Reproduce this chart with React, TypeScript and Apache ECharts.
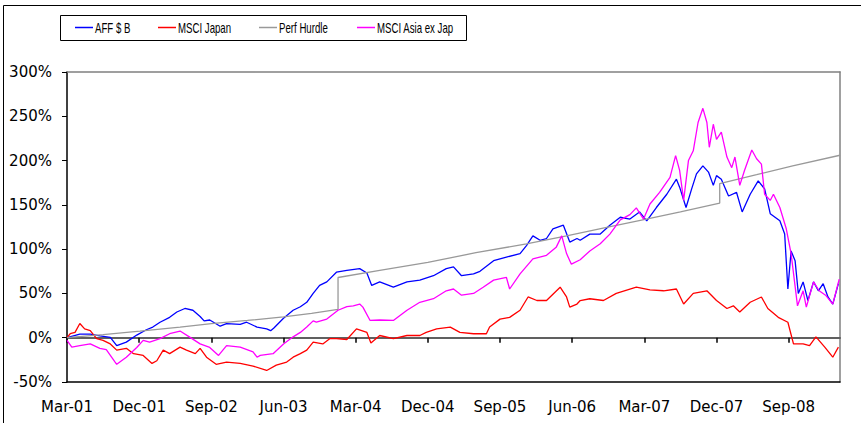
import React, { useEffect, useRef } from 'react';
import * as echarts from 'echarts';

// x values are months elapsed since the start of Mar-01
const xTickMonths = [0, 9, 18, 27, 36, 45, 54, 63, 72, 81, 90];
const xTickLabels = ['Mar-01', 'Dec-01', 'Sep-02', 'Jun-03', 'Mar-04', 'Dec-04', 'Sep-05', 'Jun-06', 'Mar-07', 'Dec-07', 'Sep-08'];
const xMax = 96.4;

const seriesNames = ['AFF $ B', 'MSCI Japan', 'Perf Hurdle', 'MSCI Asia ex Jap'];
const seriesColors = ['#0000FF', '#FF0000', '#999999', '#FF00FF'];

const affData: [number, number][] = [
  [0, 0], [1.6, 4], [2.9, 4], [4.1, 2], [5.4, 0.5], [6.2, -9], [7.4, -5], [8.7, 3], [9.9, 9], [10.7, 12],
  [11.6, 17.5], [12.8, 23], [13.7, 29], [14.7, 33], [15.7, 31], [16.6, 24], [17.1, 19], [17.8, 20], [19.1, 13], [19.9, 16],
  [21.6, 15], [22.4, 17.5], [23.7, 12], [24.9, 10], [25.4, 8], [25.8, 11], [27, 22], [28.2, 31], [29.1, 35], [29.9, 40],
  [30.7, 50], [31.5, 59], [32.4, 63], [33.6, 74], [34.9, 76], [36.5, 78], [37.4, 73], [38, 59], [39, 63], [40.7, 57],
  [42.4, 63], [44, 65], [45.7, 70], [47.3, 78], [48.2, 80], [49.2, 70], [50.7, 72], [51.5, 75], [53.2, 87], [54.8, 91],
  [56.5, 95], [57.3, 104], [58.1, 115], [59, 110], [59.8, 112], [60.6, 123], [61.9, 127], [62.7, 108], [63.6, 112], [64, 110],
  [65.2, 117], [66.5, 117], [67.7, 127], [69, 136], [70.2, 134], [71.4, 142], [72.3, 132], [73.5, 147], [74.8, 162], [76, 179],
  [76.4, 170], [77.2, 147], [77.9, 168], [78.5, 185], [79.3, 194], [80, 187], [80.6, 172], [81, 183], [81.6, 179], [82.5, 160],
  [83.5, 164], [84.2, 142], [85.2, 162], [86.2, 177], [87, 168], [87.7, 140], [88.9, 132], [89.5, 117], [89.9, 55], [90.3, 98],
  [90.8, 87], [91.2, 50], [91.8, 63], [92.4, 42], [93.1, 63], [93.7, 53], [94.3, 61], [94.9, 46], [95.5, 38], [96.2, 61],
];

const japanData: [number, number][] = [
  [0, 0], [0.4, 4.5], [1, 6], [1.6, 16], [2.2, 10], [2.9, 8], [3.7, -1], [4.5, -3], [5.4, -7], [6.2, -14],
  [7.4, -12], [8.3, -18], [9.5, -20], [10.6, -29], [11.2, -26], [12, -14], [12.8, -18], [14.1, -10.6], [14.9, -14], [16, -18],
  [16.6, -12], [17.4, -22], [18.6, -30], [19.9, -27.5], [21.6, -29], [23.2, -32], [24.9, -37], [26.1, -31], [27.4, -27.5], [28.2, -22],
  [29.1, -18], [29.9, -14], [30.7, -5], [31.9, -7], [32.8, -1], [33.6, -1], [34.9, -2], [36.1, 10], [37.4, 6], [37.9, -6],
  [39, 2.5], [40.7, -1], [42.4, 2.5], [44, 2.5], [44.8, 6], [46.1, 10], [47.8, 12], [49, 6], [50.7, 4.5], [52.3, 4.5],
  [52.7, 12], [54, 21], [55.2, 23], [56.5, 31], [57.5, 46], [58.6, 42], [59.8, 42], [61.5, 57], [62.3, 46], [62.7, 34.5],
  [63.6, 38], [64, 42], [65.2, 44], [66.9, 42], [68.5, 50], [71, 57], [72.7, 54], [74.4, 53], [76, 55], [76.9, 38],
  [78.1, 50], [79.8, 53], [81, 42], [82.3, 33], [83.1, 36], [83.9, 29], [85.2, 40], [86.6, 46], [87.4, 33], [88.7, 23],
  [89.9, 17.5], [90.6, -7], [91.8, -7], [92.6, -9], [93.4, 1], [94.5, -10.6], [95.5, -22], [96.2, -10.6],
];

const hurdleData: [number, number][] = [
  [0, 0], [4.5, 3.5], [9.1, 7.5], [14.1, 12], [18, 16], [22.5, 19.5], [27, 23.5], [30.5, 27.5], [33.8, 32], [33.8, 68],
  [39, 76], [45, 85], [51, 96], [57.3, 106], [62.3, 115], [67, 124], [71.8, 133], [76.5, 142], [81.4, 152], [81.4, 174],
  [86, 184], [90.5, 194], [96.4, 206],
];

const asiaData: [number, number][] = [
  [0, -3], [0.6, -10.6], [1.6, -9], [2.9, -7], [4.1, -12], [4.9, -13.5], [6, -27.5], [6.2, -30], [7.4, -22], [8.7, -11],
  [9.5, -3], [10.3, -5], [11.6, -1], [12.8, 4.5], [14.1, 7.5], [15.3, 0.7], [16.6, -7], [17.8, -11], [18.9, -20], [19.9, -9],
  [21.6, -10.6], [23.2, -16], [23.7, -22], [24.1, -20], [25.7, -18], [27, -7], [28.2, 1], [29.1, 6], [29.9, 12], [30.7, 19],
  [31.1, 17.5], [32.4, 21], [33.8, 31], [34.9, 35], [35.7, 36], [36.5, 38], [36.9, 34.5], [37.8, 19.5], [39, 20], [40.7, 19.5],
  [42.4, 31], [44, 40], [45.7, 44], [47.3, 53], [48.2, 55], [49.2, 48], [50.7, 50], [51.9, 57], [53.2, 65], [54.8, 68],
  [55.2, 55], [56.5, 72], [58.1, 89], [59.8, 93], [61, 102], [61.7, 115], [62.3, 95], [62.9, 83], [64, 88], [65.2, 98],
  [66.5, 106], [67.7, 117], [69, 133], [70.2, 139], [71, 146.6], [71.9, 134], [72.7, 151], [73.9, 164], [75.2, 181], [75.9, 205.6],
  [76.4, 189], [76.9, 155], [77.5, 200], [78.1, 211], [78.7, 243], [79.3, 259], [79.8, 243], [80.1, 215], [80.6, 241], [81, 224],
  [81.6, 232], [82.3, 204], [82.9, 192], [83.3, 204], [83.9, 172], [84.5, 189], [85.4, 212], [86, 202], [86.6, 196], [87, 162],
  [87.7, 155], [88.1, 162], [88.9, 147], [89.7, 123], [90.3, 95], [91.1, 36], [91.8, 53], [92.2, 34.5], [93.1, 63], [93.8, 53],
  [94.6, 48], [95.5, 38], [96.3, 66],
];

const allData = [affData, japanData, hurdleData, asiaData];

// legend layout (pixels)
const legendBox = { x: 60.5, y: 15.5, width: 406, height: 25 };
const legendLineStarts = [75, 158, 259, 357];
const legendLineLen = 18;
const legendMidY = 27.5;

export default function App() {
  const ref = useRef<HTMLDivElement>(null);
  useEffect(() => {
    if (!ref.current) return;
    const chart = echarts.init(ref.current, null, { renderer: 'svg' });
    const axisFont = { fontFamily: 'DejaVu Sans', fontSize: 15, color: '#000' };

    const legendGraphics: any[] = [
      {
        type: 'rect',
        silent: true,
        shape: { ...legendBox },
        style: { fill: '#fff', stroke: '#000', lineWidth: 1 },
        z: 10,
      },
    ];
    seriesNames.forEach((name, i) => {
      const x0 = legendLineStarts[i];
      legendGraphics.push({
        type: 'line',
        silent: true,
        shape: { x1: x0, y1: legendMidY, x2: x0 + legendLineLen, y2: legendMidY },
        style: { stroke: seriesColors[i], lineWidth: 1.5 },
        z: 11,
      });
      legendGraphics.push({
        type: 'text',
        silent: true,
        x: x0 + legendLineLen + 2,
        y: legendMidY + 0.5,
        scaleX: 0.69,
        style: {
          text: name,
          x: 0,
          y: 0,
          fill: '#000',
          fontFamily: 'Liberation Sans',
          fontSize: 14,
          align: 'left',
          verticalAlign: 'middle',
        },
        z: 11,
      });
    });

    chart.setOption({
      animation: false,
      backgroundColor: '#ffffff',
      textStyle: { fontFamily: 'DejaVu Sans' },
      graphic: [
        {
          type: 'rect',
          silent: true,
          shape: { x: 3.5, y: 5.5, width: 900, height: 500 },
          style: { fill: 'none', stroke: '#000', lineWidth: 1 },
        },
        ...legendGraphics,
      ],
      grid: {
        left: 67,
        right: 21,
        top: 72,
        bottom: 41,
      },
      xAxis: [
        {
          type: 'value',
          min: 0,
          max: xMax,
          position: 'bottom',
          axisLine: { onZero: false, lineStyle: { color: '#000', width: 1.5 } },
          axisTick: { show: false },
          splitLine: { show: false },
          axisLabel: {
            ...axisFont,
            margin: 17,
            customValues: xTickMonths,
            formatter: (v: number) => {
              const i = xTickMonths.indexOf(Math.round(v));
              return i >= 0 ? xTickLabels[i] : '';
            },
          },
        },
        {
          type: 'value',
          min: 0,
          max: xMax,
          position: 'bottom',
          axisLine: { onZero: true, lineStyle: { color: '#606060', width: 2 } },
          axisTick: { show: true, customValues: xTickMonths, length: 5, lineStyle: { color: '#000', width: 1.5 } },
          axisLabel: { show: false },
          splitLine: { show: false },
        },
        {
          type: 'value',
          min: 0,
          max: xMax,
          position: 'top',
          axisLine: { onZero: false, lineStyle: { color: '#808080', width: 1.5 } },
          axisTick: { show: false },
          axisLabel: { show: false },
          splitLine: { show: false },
        },
      ],
      yAxis: [
        {
          type: 'value',
          min: -50,
          max: 300,
          interval: 50,
          position: 'left',
          axisLine: { show: true, onZero: false, lineStyle: { color: '#000', width: 1.5 } },
          axisTick: { show: true, length: 5, lineStyle: { color: '#000', width: 1 } },
          splitLine: { show: false },
          axisLabel: { ...axisFont, margin: 15, formatter: '{value}%' },
        },
        {
          type: 'value',
          min: -50,
          max: 300,
          interval: 50,
          position: 'right',
          axisLine: { show: true, onZero: false, lineStyle: { color: '#808080', width: 1.5 } },
          axisTick: { show: false },
          splitLine: { show: false },
          axisLabel: { show: false },
        },
      ],
      series: seriesNames.map((name, i) => ({
        name,
        type: 'line',
        xAxisIndex: 0,
        yAxisIndex: 0,
        data: allData[i],
        symbol: 'none',
        showSymbol: false,
        color: seriesColors[i],
        lineStyle: { color: seriesColors[i], width: 1.3 },
        clip: true,
      })),
    });
    return () => chart.dispose();
  }, []);
  return (
    <div
      ref={ref}
      style={{ position: 'absolute', left: 0, top: 0, width: 861, height: 423, background: '#fff' }}
    />
  );
}
